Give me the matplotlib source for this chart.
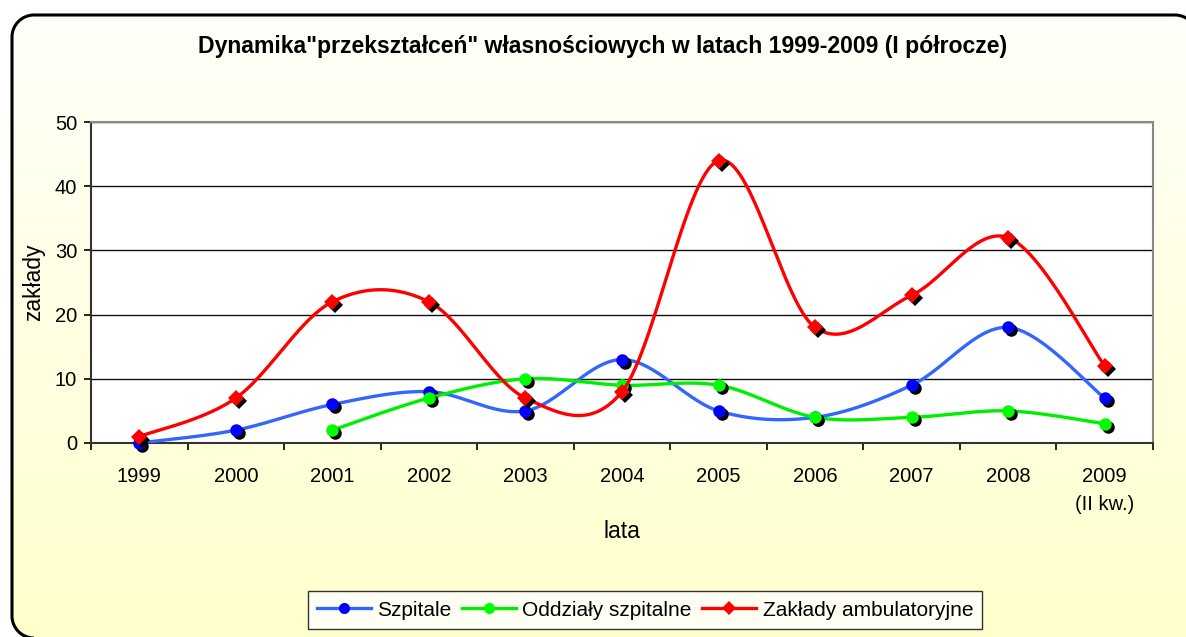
import numpy as np
import matplotlib
matplotlib.use("Agg")
import matplotlib.pyplot as plt
from matplotlib.patches import PathPatch
from matplotlib.path import Path
from matplotlib.lines import Line2D
import matplotlib.transforms as mtransforms

plt.rcParams['font.family'] = ['Liberation Sans', 'DejaVu Sans']

categories = ["1999", "2000", "2001", "2002", "2003", "2004", "2005", "2006", "2007", "2008", "2009\n(II kw.)"]
szpitale = [0, 2, 6, 8, 5, 13, 5, 4, 9, 18, 7]
oddzialy = [None, None, 2, 7, 10, 9, 9, 4, 4, 5, 3]
zaklady = [1, 7, 22, 22, 7, 8, 44, 18, 23, 32, 12]

title = 'Dynamika"przekształceń" własnościowych w latach 1999-2009 (I półrocze)'

W, H = 1186, 637
fig = plt.figure(figsize=(W / 100, H / 100), dpi=100)
fig.patch.set_facecolor('white')

# background: rounded frame (pixel coordinates) with gradient fill
bg = fig.add_axes([0, 0, 1, 1], zorder=-5)
bg.set_xlim(0, W)
bg.set_ylim(H, 0)
bg.axis('off')
L, T, R, B, r = 12, 15, 1197, 638, 22
k = 0.5523 * r
verts = [(L, B - r),
         (L, T + r),
         (L, T + r - k), (L + r - k, T), (L + r, T),
         (R - r, T),
         (R - r + k, T), (R, T + r - k), (R, T + r),
         (R, B),
         (L + r, B),
         (L + r - k, B), (L, B - r + k), (L, B - r)]
codes = [Path.MOVETO, Path.LINETO,
         Path.CURVE4, Path.CURVE4, Path.CURVE4,
         Path.LINETO,
         Path.CURVE4, Path.CURVE4, Path.CURVE4,
         Path.LINETO, Path.LINETO,
         Path.CURVE4, Path.CURVE4, Path.CURVE4]
clip_patch = PathPatch(Path(verts, codes), facecolor='none', edgecolor='none')
bg.add_patch(clip_patch)
grad = np.linspace(0, 1, 256).reshape(-1, 1)
top = np.array([1.0, 1.0, 0.985])
bot = np.array([1.0, 1.0, 0.80])
img = top[None, None, :] * (1 - grad[:, :, None]) + bot[None, None, :] * grad[:, :, None]
im = bg.imshow(img, extent=(0, W, H, 0), aspect='auto', zorder=1)
im.set_clip_path(clip_patch)
# visible outline: left edge, top-left arc, top edge, top-right arc, bottom-left arc
outline_v = [(L + r, B), (L + r - k, B), (L, B - r + k), (L, B - r),
             (L, T + r),
             (L, T + r - k), (L + r - k, T), (L + r, T),
             (R - r, T),
             (R - r + k, T), (R, T + r - k), (R, T + r)]
outline_c = [Path.MOVETO, Path.CURVE4, Path.CURVE4, Path.CURVE4,
             Path.LINETO,
             Path.CURVE4, Path.CURVE4, Path.CURVE4,
             Path.LINETO,
             Path.CURVE4, Path.CURVE4, Path.CURVE4]
bg.add_patch(PathPatch(Path(outline_v, outline_c), facecolor='none', edgecolor='black',
                       linewidth=2.2, zorder=3))

ax = fig.add_axes([91 / W, 1 - 443 / H, (1153 - 91) / W, (443 - 122) / H])
ax.set_facecolor('white')
x = np.arange(len(categories))
ax.set_xlim(-0.5, len(categories) - 0.5)
ax.set_ylim(0, 50)
ax.set_yticks([0, 10, 20, 30, 40, 50])
ax.set_xticks(x)
ax.set_xticklabels(categories, fontsize=14.5)
ax.set_xticks(np.arange(-0.5, len(categories), 1), minor=True)
ax.tick_params(axis='x', which='major', length=0, pad=17)
ax.tick_params(axis='x', which='minor', length=5, width=1.2, direction='out', color='black')
ax.tick_params(axis='y', length=5, width=1.2, direction='out', labelsize=14.5, pad=5)
for lab in ax.get_xticklabels():
    lab.set_linespacing(1.65)
    lab.set_verticalalignment('top')
ax.grid(axis='y', color='#111111', linewidth=1.0, zorder=0)
for s in ['top', 'right']:
    ax.spines[s].set_color('#888888')
    ax.spines[s].set_linewidth(1.5)
for s in ['left', 'bottom']:
    ax.spines[s].set_color('#333333')
    ax.spines[s].set_linewidth(1.5)
ax.set_ylabel('zakłady', fontsize=16.5, labelpad=7)
ax.set_xlabel('lata', fontsize=16.5, labelpad=4)


def smooth(xs, ys, n=30):
    xs = np.asarray(xs, float)
    ys = np.asarray(ys, float)
    P = np.column_stack([xs, ys])
    out = []
    m = len(P)
    for i in range(m - 1):
        p0 = P[i - 1] if i > 0 else P[i]
        p1 = P[i]
        p2 = P[i + 1]
        p3 = P[i + 2] if i + 2 < m else P[i + 1]
        c1 = p1 + (p2 - p0) / 6
        c2 = p2 - (p3 - p1) / 6
        t = np.linspace(0, 1, n)[:, None]
        seg = ((1 - t) ** 3) * p1 + 3 * ((1 - t) ** 2) * t * c1 + 3 * (1 - t) * t ** 2 * c2 + t ** 3 * p2
        out.append(seg if i == 0 else seg[1:])
    out = np.vstack(out)
    return out[:, 0], out[:, 1]


shadow_tr = mtransforms.offset_copy(ax.transData, fig=fig, x=3, y=-3, units='dots')

series = [
    ("Szpitale", szpitale, '#3366FF', '#0000FF', 'o', 9),
    ("Oddziały szpitalne", oddzialy, '#00EE00', '#00FF00', 'o', 9),
    ("Zakłady ambulatoryjne", zaklady, '#FF0000', '#FF0000', 'D', 8),
]
handles = []
for j, (name, vals, lc, mc, mk, ms) in enumerate(series):
    xs = [xi for xi, v in zip(x, vals) if v is not None]
    ys = [v for v in vals if v is not None]
    sx, sy = smooth(xs, ys)
    ax.plot(sx, sy, color=lc, linewidth=2.4, zorder=3 + j, solid_capstyle='round')
    ax.plot(xs, ys, linestyle='none', marker=mk, markersize=ms, color='black',
            markeredgewidth=0, transform=shadow_tr, zorder=3 + j, clip_on=False)
    ax.plot(xs, ys, linestyle='none', marker=mk, markersize=ms, color=mc,
            markeredgewidth=0, zorder=3 + j, clip_on=False)
    handles.append(Line2D([], [], color=lc, linewidth=2.4, marker=mk, markersize=ms - 1,
                          markerfacecolor=mc, markeredgewidth=0, label=name))

fig.text(603 / W, 1 - 47 / H, title, ha='center', va='center', fontsize=16.6, fontweight='bold')

leg = fig.legend(handles=handles, loc='center', bbox_to_anchor=(645 / W, 1 - 610 / H),
                 ncol=3, fontsize=15, frameon=True, fancybox=False, handlelength=2.6,
                 handletextpad=0.3, columnspacing=0.5, borderpad=0.45, borderaxespad=0)
leg.get_frame().set_edgecolor('black')
leg.get_frame().set_linewidth(1.0)
leg.get_frame().set_facecolor('white')

fig.savefig('out.png', dpi=100)
